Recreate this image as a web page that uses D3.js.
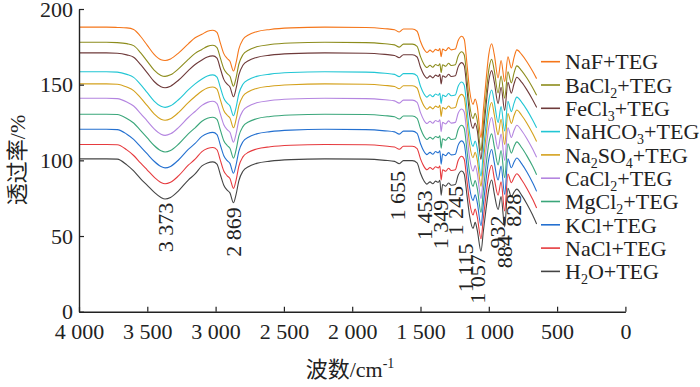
<!DOCTYPE html>
<html>
<head>
<meta charset="utf-8">
<script src="https://cdn.jsdelivr.net/npm/d3@7"></script>
<style>
body { margin: 0; background: #fff; }
svg { display: block; background: #fff; }
</style>
</head>
<body>
<svg id="chart" width="700" height="387"></svg>
<script>
var waveNumbers = [4000, 3800, 3720, 3650, 3600, 3550, 3500, 3450, 3400, 3370,
    3330, 3270, 3200, 3150, 3100, 3060, 3020, 2990, 2965, 2940,
    2915, 2895, 2869, 2850, 2830, 2800, 2760, 2700, 2600, 2450,
    2200, 1900, 1760, 1690, 1655, 1625, 1560, 1525, 1500, 1475,
    1453, 1430, 1410, 1390, 1370, 1358, 1349, 1338, 1315, 1295,
    1275, 1245, 1225, 1198, 1180, 1160, 1140, 1115, 1100, 1085,
    1057, 1040, 1020, 1000, 979, 960, 932, 910, 884, 860,
    835, 815, 795, 760, 720, 680, 650];

var seriesNames = ["NaF+TEG", "BaCl2+TEG", "FeCl3+TEG", "NaHCO3+TEG", "Na2SO4+TEG",
    "CaCl2+TEG", "MgCl2+TEG", "KCl+TEG", "NaCl+TEG", "H2O+TEG"];
var seriesColors = ["#f5761a", "#8c8c1c", "#6e3a3a", "#22c6d4", "#d4a11c",
    "#b485e0", "#3aa67a", "#2470d0", "#e63a3e", "#444444"];

var naf = [188, 188, 187.8, 187.5, 186.5, 182, 176, 170, 166.5, 166,
    167, 171, 177, 181, 183.3, 185.3, 186, 184.5, 177.5, 170.5,
    167.3, 165.5, 159, 164.5, 173.5, 179.8, 182.8, 185, 186.5, 187.5,
    188, 187.8, 187, 186.3, 184.8, 186.8, 186.8, 185.3, 178.5, 173.5,
    171.3, 172.8, 171.5, 173.3, 172.5, 173.8, 168.5, 173.5, 172.5, 174.5,
    173, 173.5, 179, 182, 180, 164, 146, 137, 140.5, 136,
    115, 133, 153, 170, 177, 170, 154.5, 166, 152, 168.5,
    161, 168, 173, 170, 165, 159, 154];
var bacl2 = [178, 178, 177.8, 177.1, 175.8, 171.2, 165.4, 159.6, 156.1, 155.5,
    156.5, 160.6, 166.7, 170.7, 173.3, 175.3, 176, 174.5, 167.5, 160.5,
    157.3, 155.5, 149, 154.5, 163.5, 169.8, 172.8, 175, 176.5, 177.5,
    178, 177.8, 177, 176.3, 174.8, 176.8, 176.8, 175.3, 168.5, 163.5,
    161.3, 162.8, 161.5, 163.3, 162.5, 163.8, 158, 163.2, 162.2, 164.2,
    162.7, 163.2, 168.8, 171.8, 169.8, 154, 136.4, 127.6, 131.1, 126.6,
    106.3, 123.8, 143.2, 159.8, 166.7, 159.4, 144.5, 155.7, 141, 158.5,
    151.2, 157.8, 162.4, 159.3, 154.2, 148.1, 143];
var fecl3 = [171, 171, 170.8, 169.7, 168.1, 163.4, 157.8, 152.1, 148.6, 148,
    149, 153.1, 159.3, 163.3, 166.3, 168.3, 169, 167.5, 160.5, 153.5,
    150.3, 148.5, 142, 147.5, 156.5, 162.8, 165.8, 168, 169.5, 170.5,
    171, 170.8, 170, 169.3, 167.8, 169.8, 169.8, 168.3, 161.5, 156.5,
    154.3, 155.8, 154.5, 156.3, 155.5, 156.8, 150.5, 155.9, 154.9, 156.9,
    155.4, 155.9, 161.6, 164.6, 162.6, 147, 129.9, 121.1, 124.7, 120.1,
    100.7, 117.6, 136.4, 152.6, 159.3, 151.9, 137.5, 148.3, 133, 151.5,
    144.4, 150.6, 154.9, 151.7, 146.4, 140.2, 135];
var nahco3 = [158.5, 158.5, 158.3, 156.8, 154.8, 150.2, 144.7, 139.2, 135.7, 135,
    136, 140.2, 146.5, 150.5, 153.8, 155.8, 156.5, 155, 148, 141,
    137.8, 136, 129.5, 135, 144, 150.3, 153.3, 155.5, 157, 158,
    158.5, 158.3, 157.5, 156.8, 155.3, 157.3, 157.3, 155.8, 149, 144,
    141.8, 143.3, 142, 143.8, 143, 144.3, 137.5, 143.2, 142.2, 144.2,
    142.7, 143.2, 148.8, 151.8, 149.8, 134.5, 117.8, 109.2, 112.8, 108.2,
    89.5, 105.8, 124.2, 139.8, 146.5, 138.8, 125, 135.5, 119.5, 139,
    132.2, 137.8, 141.8, 138.5, 133.2, 126.8, 121.5];
var na2so4 = [150.5, 150.5, 150.3, 148.4, 146.1, 141.4, 136.1, 130.7, 127.2, 126.5,
    127.5, 131.7, 138.2, 142.2, 145.8, 147.8, 148.5, 147, 140, 133,
    129.8, 128, 121.5, 127, 136, 142.3, 145.3, 147.5, 149, 150,
    150.5, 150.3, 149.5, 148.8, 147.3, 149.3, 149.3, 147.8, 141, 136,
    133.8, 135.3, 134, 135.8, 135, 136.3, 129, 134.9, 133.9, 135.9,
    134.4, 134.9, 140.6, 143.6, 141.6, 126.5, 110.3, 101.7, 105.4, 100.7,
    82.8, 98.6, 116.4, 131.6, 138.2, 130.3, 117, 127.2, 110.5, 131,
    124.4, 129.6, 133.3, 129.8, 124.4, 117.9, 112.5];
var cacl2 = [141, 141, 140.8, 138.6, 135.9, 131.1, 125.9, 120.8, 117.3, 116.5,
    117.5, 121.8, 128.3, 132.3, 136.3, 138.3, 139, 137.5, 130.5, 123.5,
    120.3, 118.5, 112, 117.5, 126.5, 132.8, 135.8, 138, 139.5, 140.5,
    141, 140.8, 140, 139.3, 137.8, 139.8, 139.8, 138.3, 131.5, 126.5,
    124.3, 125.8, 124.5, 126.3, 125.5, 126.8, 119, 125.1, 124.1, 126.1,
    124.6, 125.1, 130.9, 133.9, 131.9, 117, 101.2, 92.8, 96.6, 91.8,
    74.7, 89.9, 107.1, 121.9, 128.3, 120.2, 107.5, 117.3, 100, 121.5,
    115.1, 119.9, 123.2, 119.7, 114.1, 107.6, 102];
var mgcl2 = [130.5, 130.5, 130.3, 127.7, 124.7, 119.8, 114.8, 109.8, 106.3, 105.5,
    106.5, 110.8, 117.5, 121.5, 125.8, 127.8, 128.5, 127, 120, 113,
    109.8, 108, 101.5, 107, 116, 122.3, 125.3, 127.5, 129, 130,
    130.5, 130.3, 129.5, 128.8, 127.3, 129.3, 129.3, 127.8, 121, 116,
    113.8, 115.3, 114, 115.8, 115, 116.3, 108, 114.3, 113.3, 115.3,
    113.8, 114.3, 120.2, 123.2, 121.2, 106.5, 91.2, 82.8, 86.7, 81.8,
    65.5, 80.2, 96.8, 111.2, 117.5, 109.2, 97, 106.5, 88.5, 111,
    104.8, 109.2, 112.2, 108.5, 102.8, 96.2, 90.5];
var kcl = [120.5, 120.5, 120.3, 117.3, 113.9, 109.1, 104.2, 99.4, 95.9, 95,
    96, 100.4, 107.2, 111.2, 115.8, 117.8, 118.5, 117, 110, 103,
    99.8, 98, 91.5, 97, 106, 112.3, 115.3, 117.5, 119, 120,
    120.5, 120.3, 119.5, 118.8, 117.3, 119.3, 119.3, 117.8, 111, 106,
    103.8, 105.3, 104, 105.8, 105, 106.3, 97.5, 104.1, 103.1, 105.1,
    103.6, 104.1, 109.9, 112.9, 110.9, 96.5, 81.6, 73.4, 77.3, 72.4,
    56.8, 70.9, 87.1, 100.9, 107.2, 98.6, 87, 96.2, 77.5, 101,
    95.1, 98.9, 101.6, 97.8, 92.1, 85.3, 79.5];
var nacl = [110.5, 110.5, 110.3, 106.9, 103.2, 98.3, 93.6, 88.9, 85.4, 84.5,
    85.5, 89.9, 96.8, 100.8, 105.8, 107.8, 108.5, 107, 100, 93,
    89.8, 88, 81.5, 87, 96, 102.3, 105.3, 107.5, 109, 110,
    110.5, 110.3, 109.5, 108.8, 107.3, 109.3, 109.3, 107.8, 101, 96,
    93.8, 95.3, 94, 95.8, 95, 96.3, 87, 93.8, 92.8, 94.8,
    93.3, 93.8, 99.7, 102.7, 100.7, 86.5, 72.1, 63.9, 67.9, 62.9,
    48.2, 61.7, 77.3, 90.7, 96.8, 88.1, 77, 85.8, 66.5, 91,
    85.3, 88.7, 91.1, 87.2, 81.3, 74.4, 68.5];
var h2o = [101, 101, 100.8, 97, 93, 88, 83.5, 79, 75.5, 74.5,
    75.5, 80, 87, 91, 96.3, 98.3, 99, 97.5, 90.5, 83.5,
    80.3, 78.5, 72, 77.5, 86.5, 92.8, 95.8, 98, 99.5, 100.5,
    101, 100.8, 100, 99.3, 97.8, 99.8, 99.8, 98.3, 91.5, 86.5,
    84.3, 85.8, 84.5, 86.3, 85.5, 86.8, 77, 84, 83, 85,
    83.5, 84, 90, 93, 91, 77, 63, 55, 59, 54,
    40, 53, 68, 81, 87, 78, 67.5, 76, 56, 81.5,
    76, 79, 81, 77, 71, 64, 58];

var seriesValues = [naf, bacl2, fecl3, nahco3, na2so4, cacl2, mgcl2, kcl, nacl, h2o];

var xTicks = [4000, 3500, 3000, 2500, 2000, 1500, 1000, 500, 0];
var yTicks = [0, 50, 100, 150, 200];

var peakLabels = ["3 373", "2 869", "1 655", "1 453", "1 349", "1 245",
    "1 115", "1 057", "932", "884", "828"];
var peakWaves = [3373, 2869, 1655, 1453, 1349, 1245, 1115, 1057, 932, 884, 828];

// layout of the peak labels: top end (in % units) and a small x nudge in px
var peakTops = [72, 69, 93, 80, 74, 83, 45, 38, 63.5, 50.5, 78];
var peakNudge = [1, 0, -2, -3, -1, 0, -8, -4, -1, 0, 1];

var fontSize = 22;
var serif = '"Liberation Serif", "DejaVu Serif", "Noto Sans CJK SC", serif';
var axisColor = "#222";

var svg = d3.select('#chart')
    .attr('font-family', serif)
    .style('font-family', serif);

var x = d3.scaleLinear().domain([4000, 0]).range([79, 625.4]);
var y = d3.scaleLinear().domain([0, 200]).range([311.7, 9]);

//Curvas
var line = d3.line()
    .x(function (d) { return x(d[0]); })
    .y(function (d) { return y(d[1]); })
    .curve(d3.curveMonotoneX);

var order = d3.range(seriesNames.length).reverse();

svg.append('g')
    .selectAll('path')
    .data(order)
    .enter()
    .append('path')
    .attr('d', function (i) { return line(d3.zip(waveNumbers, seriesValues[i])); })
    .attr('fill', 'none')
    .attr('stroke', function (i) { return seriesColors[i]; })
    .attr('stroke-width', 1.1)
    .attr('stroke-linejoin', 'round');

//Eixos
function fmtThousands(d) {
    if (d >= 1000) {
        return Math.floor(d / 1000) + ' ' + d3.format('03d')(d % 1000);
    }
    return String(d);
}

var xAxis = d3.axisBottom(x)
    .tickValues(xTicks)
    .tickFormat(fmtThousands)
    .tickSizeInner(-5)
    .tickSizeOuter(0)
    .tickPadding(12);

var yAxis = d3.axisLeft(y)
    .tickValues(yTicks)
    .tickSizeInner(-5)
    .tickSizeOuter(0)
    .tickPadding(6);

var gx = svg.append('g')
    .attr('transform', 'translate(0,' + y(0) + ')')
    .call(xAxis);

var gy = svg.append('g')
    .attr('transform', 'translate(' + x(4000) + ',0)')
    .call(yAxis);

[gx, gy].forEach(function (g) {
    g.attr('font-family', serif).attr('font-size', fontSize);
    g.select('.domain').attr('stroke', axisColor).attr('stroke-width', 1.4);
    g.selectAll('.tick line').attr('stroke', axisColor).attr('stroke-width', 1.2);
    g.selectAll('.tick text').attr('fill', axisColor);
});

//Titulos dos eixos
var xTitle = svg.append('text')
    .attr('x', 350)
    .attr('y', 377)
    .attr('text-anchor', 'middle')
    .attr('fill', axisColor)
    .attr('font-size', fontSize);
xTitle.append('tspan').text('波数/cm');
xTitle.append('tspan').attr('font-size', 14).attr('dy', -9).text('-1');

svg.append('text')
    .attr('transform', 'translate(17,160) rotate(-90)')
    .attr('text-anchor', 'middle')
    .attr('dy', '0.35em')
    .attr('fill', axisColor)
    .attr('font-size', fontSize)
    .text('透过率/%');

//Rotulos dos picos
svg.append('g')
    .selectAll('text')
    .data(peakLabels)
    .enter()
    .append('text')
    .attr('transform', function (d, i) {
        return 'translate(' + (x(peakWaves[i]) + peakNudge[i]) + ',' + y(peakTops[i]) + ') rotate(-90)';
    })
    .attr('text-anchor', 'end')
    .attr('dy', '0.35em')
    .attr('fill', axisColor)
    .attr('font-size', fontSize)
    .text(function (d) { return d; });

//Legenda
var legend = svg.append('g');
seriesNames.forEach(function (name, i) {
    var ly = 61.7 + i * 23.3;
    legend.append('line')
        .attr('x1', 541).attr('x2', 560)
        .attr('y1', ly).attr('y2', ly)
        .attr('stroke', seriesColors[i])
        .attr('stroke-width', 1.6);

    var t = legend.append('text')
        .attr('x', 565)
        .attr('y', ly)
        .attr('dy', '0.35em')
        .attr('fill', axisColor)
        .attr('font-size', fontSize);

    var low = false;
    name.split(/(\d)/).forEach(function (part) {
        if (part === '') return;
        var isSub = /^\d$/.test(part);
        var sp = t.append('tspan').text(part);
        if (isSub && !low) { sp.attr('dy', 5).attr('font-size', 14); low = true; }
        else if (isSub) { sp.attr('font-size', 14); }
        else if (low) { sp.attr('dy', -5); low = false; }
    });
});
</script>
</body>
</html>
